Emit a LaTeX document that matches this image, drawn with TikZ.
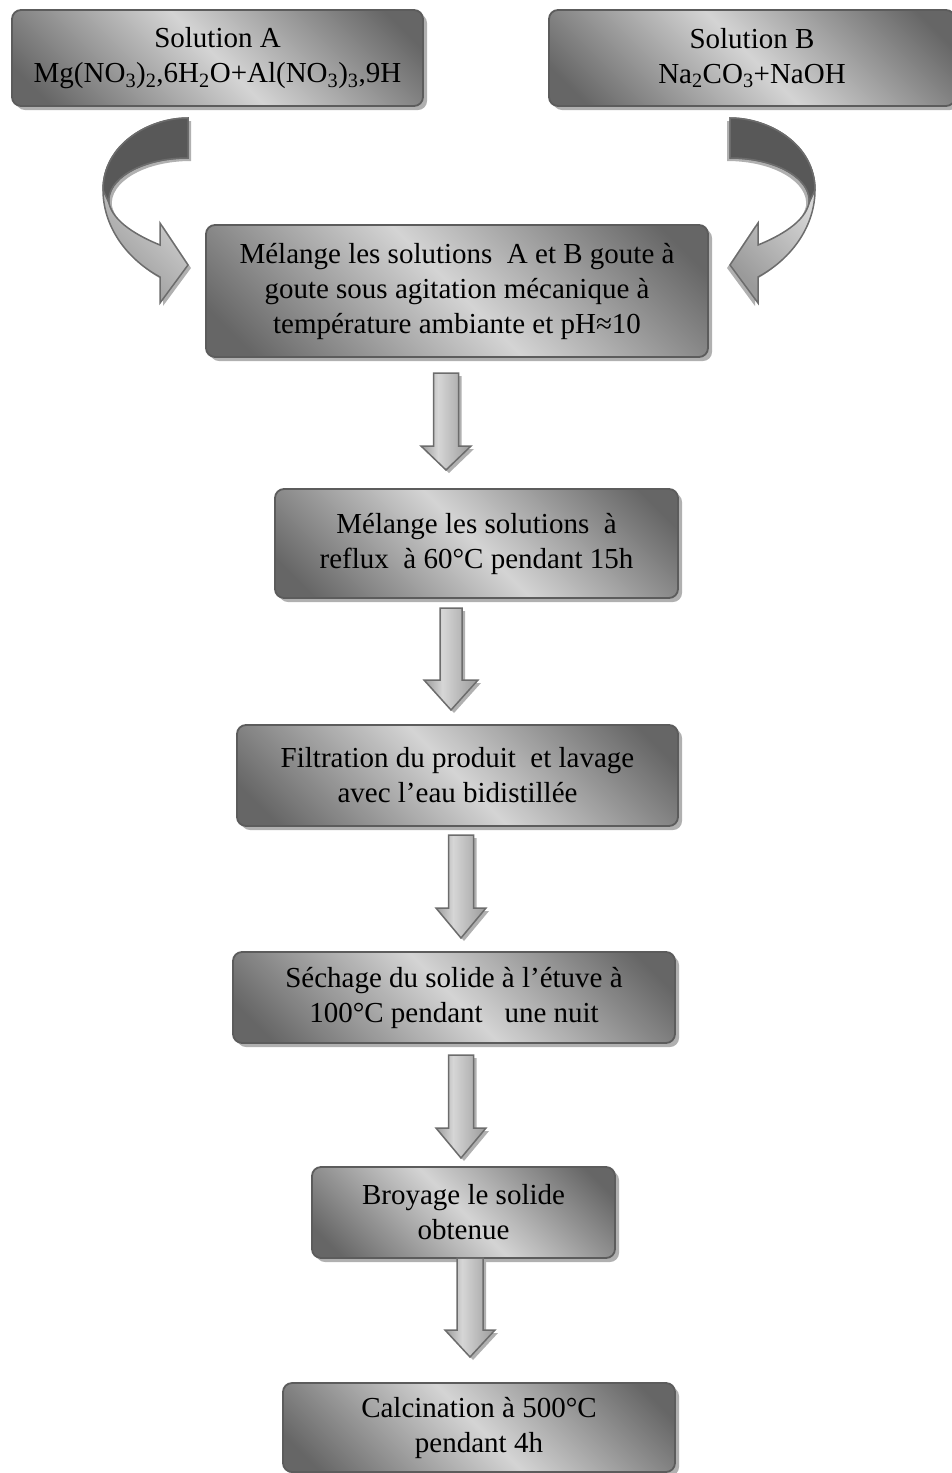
\documentclass[tikz,border=0pt]{standalone}
\usepackage{fontspec}
\setmainfont{Liberation Serif}
\usetikzlibrary{shadows}
\definecolor{bxdark}{HTML}{666666}
\definecolor{bxlight}{HTML}{D4D4D4}
\definecolor{bxline}{HTML}{5C5C5C}
\definecolor{arline}{HTML}{6C6C6C}
\definecolor{ardark}{HTML}{585858}
\definecolor{armid}{HTML}{9A9A9A}
\definecolor{arlight}{HTML}{D6D6D6}
\definecolor{shcol}{HTML}{B0B0B0}
\pgfdeclarehorizontalshading{boxsh}{100bp}{color(0bp)=(bxdark); color(20bp)=(bxdark); color(50bp)=(bxlight); color(80bp)=(bxdark); color(100bp)=(bxdark)}
\pgfdeclarehorizontalshading{arrsh}{100bp}{color(0bp)=(armid); color(25bp)=(armid); color(42bp)=(arlight); color(75bp)=(armid); color(100bp)=(armid)}
\pgfdeclarehorizontalshading{crvsh}{100bp}{color(0bp)=(armid); color(25bp)=(armid); color(60bp)=(arlight); color(100bp)=(arlight)}
\tikzset{
  stepbox/.style={rectangle, rounded corners=9pt, draw=bxline, line width=1.8pt,
    shading=boxsh, shading angle=45,
    drop shadow={shadow xshift=4pt, shadow yshift=-4pt, fill=shcol, opacity=1},
    align=center, inner sep=0pt, font=\fontsize{29pt}{35pt}\selectfont},
  blockarr/.style={draw=arline, line width=1.5pt, shading=arrsh, shading angle=0, line join=miter},
  blockshadow/.style={fill=shcol},
  crvarr/.style={draw=arline, line width=1.5pt, shading=crvsh, shading angle=45},
  crvdark/.style={draw=arline, line width=1.5pt, fill=ardark},
}
% name, x, top, head start, tip, shaft half width, head half width
\newcommand{\downblock}[7]{%
  \begin{scope}[shift={(#2,#3)}]
    \coordinate (#1) at (0,0);
    \fill[blockshadow, shift={(3,3)}] ({-#6},0) -- (#6,0) -- (#6,{#4-#3}) -- (#7,{#4-#3}) -- (0,{#5-#3}) -- ({-#7},{#4-#3}) -- ({-#6},{#4-#3}) -- cycle;
    \draw[blockarr] ({-#6},0) -- (#6,0) -- (#6,{#4-#3}) -- (#7,{#4-#3}) -- (0,{#5-#3}) -- ({-#7},{#4-#3}) -- ({-#6},{#4-#3}) -- cycle;
  \end{scope}}
\newcommand{\crvoutline}{(188,118) .. controls (148,118) and (103,145) .. (103,190)
    .. controls (103,225) and (125,258) .. (160,277)
    -- (160,303) -- (188,265) -- (160,223) -- (160,245)
    .. controls (138,236) and (113,222) .. (109,203)
    .. controls (106,180) and (140,158) .. (188,158) -- cycle}
\newcommand{\crvarrow}{%
  \fill[blockshadow, shift={(3,3)}] \crvoutline;
  \draw[crvarr] \crvoutline;
  \draw[crvdark] (188,118) .. controls (148,118) and (103,145) .. (103,190)
    -- (109,203) .. controls (106,180) and (140,158) .. (188,158) -- cycle;}
\begin{document}
\begin{tikzpicture}[x=1pt,y=-1pt]
\useasboundingbox (0,0) rectangle (951,1473);
% curved arrows
\crvarrow
\begin{scope}[xshift=918pt, xscale=-1]
\crvarrow
\end{scope}
% boxes
\node[stepbox, minimum width=411pt, minimum height=96pt] (sa) at (217.5,58)
  {Solution A\\Mg(NO\textsubscript{3})\textsubscript{2},6H\textsubscript{2}O+Al(NO\textsubscript{3})\textsubscript{3},9H};
\node[stepbox, minimum width=406pt, minimum height=96pt] (sb) at (752,58)
  {Solution B\\Na\textsubscript{2}CO\textsubscript{3}+NaOH};
\node[stepbox, minimum width=502pt, minimum height=132pt] (mix) at (457,291)
  {Mélange les solutions~ A et B goute à\\goute sous agitation mécanique à\\température ambiante et pH≈10};
\node[stepbox, minimum width=403pt, minimum height=109pt] (reflux) at (476.5,543.5)
  {Mélange les solutions~ à\\reflux~ à 60°C pendant 15h};
\node[stepbox, minimum width=441pt, minimum height=101pt] (filt) at (457.5,775.5)
  {Filtration du produit~ et lavage\\avec l’eau bidistillée};
\node[stepbox, minimum width=442pt, minimum height=91pt] (sech) at (454,997.5)
  {Séchage du solide à l’étuve à\\100°C pendant~~ une nuit};
\node[stepbox, minimum width=303pt, minimum height=91pt] (broy) at (463.5,1212.5)
  {Broyage le solide\\obtenue};
\node[stepbox, minimum width=392pt, minimum height=89pt] (calc) at (479,1427.5)
  {Calcination à 500°C\\pendant 4h};
% block arrows
\downblock{a1}{446}{373}{446}{470}{12.5}{25}
\downblock{a2}{451}{608}{680}{710}{11}{27}
\downblock{a3}{461}{835}{908}{938}{12.5}{25}
\downblock{a4}{461}{1055}{1128}{1158}{12.5}{25}
\downblock{a5}{470}{1258}{1330}{1357}{13}{25}
\end{tikzpicture}
\end{document}
